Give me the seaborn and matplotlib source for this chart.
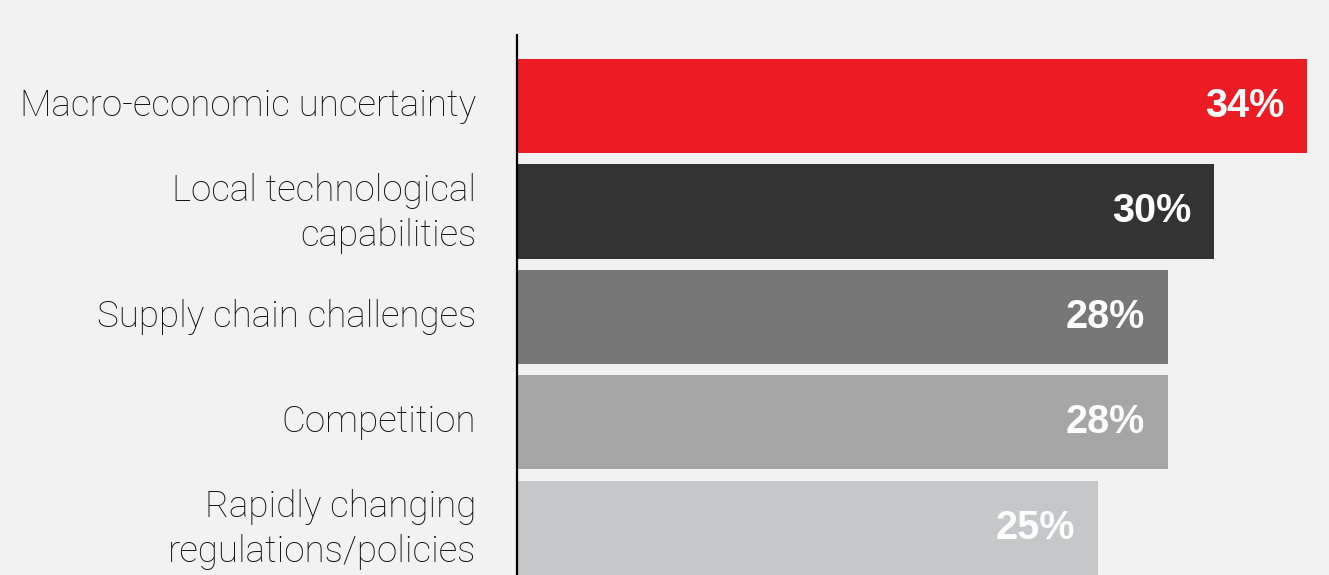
import matplotlib
matplotlib.use("Agg")
import matplotlib.pyplot as plt
import matplotlib.transforms as mtransforms
import seaborn as sns
import pandas as pd

categories = [
    "Macro-economic uncertainty",
    "Local technological\ncapabilities",
    "Supply chain challenges",
    "Competition",
    "Rapidly changing\nregulations/policies",
]
values = [34, 30, 28, 28, 25]
value_labels = ["34%", "30%", "28%", "28%", "25%"]
bar_colors = ["#ed1c24", "#333333", "#777777", "#a6a6a6", "#c6c7c9"]

bg = "#f2f2f2"
sns.set_theme(style="white")
plt.rcParams["font.family"] = ["Roboto", "Liberation Sans", "DejaVu Sans"]

df = pd.DataFrame({"category": categories, "value": values})

W, H = 1329, 575
fig = plt.figure(figsize=(W / 100, H / 100), dpi=100, facecolor=bg)
left_px, top_px = 517, 35
ax = fig.add_axes([left_px / W, 0, 1 - left_px / W, (H - top_px) / H])
ax.set_facecolor(bg)

sns.barplot(data=df, x="value", y="category", hue="category",
            palette=bar_colors, width=0.893, legend=False, ax=ax,
            orient="h", saturation=1, linewidth=0, edgecolor="none")

px_per_unit = 790 / 34
ax.set_xlim(0, (W - left_px) / px_per_unit)
ax.set_ylim(4.45, -0.675)

# value labels inside the bar ends
for i, (v, lab) in enumerate(zip(values, value_labels)):
    ax.text(v - 23 / px_per_unit, i, lab, ha="right", va="center",
            color="white", fontsize=28.5, fontweight="bold",
            family=["Liberation Sans", "DejaVu Sans"])

# category labels to the left of the axis line
for i, cat in enumerate(categories):
    dy = -2 if "\n" in cat else 0
    label_tf = ax.get_yaxis_transform() + mtransforms.ScaledTranslation(
        -41 / 100, dy / 100, fig.dpi_scale_trans)
    ax.text(0, i, cat, transform=label_tf, ha="right", va="center",
            fontsize=26.5, fontweight="light", color="#111111",
            linespacing=1.3, multialignment="right")

ax.set_xlabel("")
ax.set_ylabel("")
ax.set_xticks([])
ax.set_yticks([])

for s in ["top", "right", "bottom"]:
    ax.spines[s].set_visible(False)
ax.spines["left"].set_color("#000000")
ax.spines["left"].set_linewidth(1.6)

fig.savefig("out.png", dpi=100, facecolor=bg)
